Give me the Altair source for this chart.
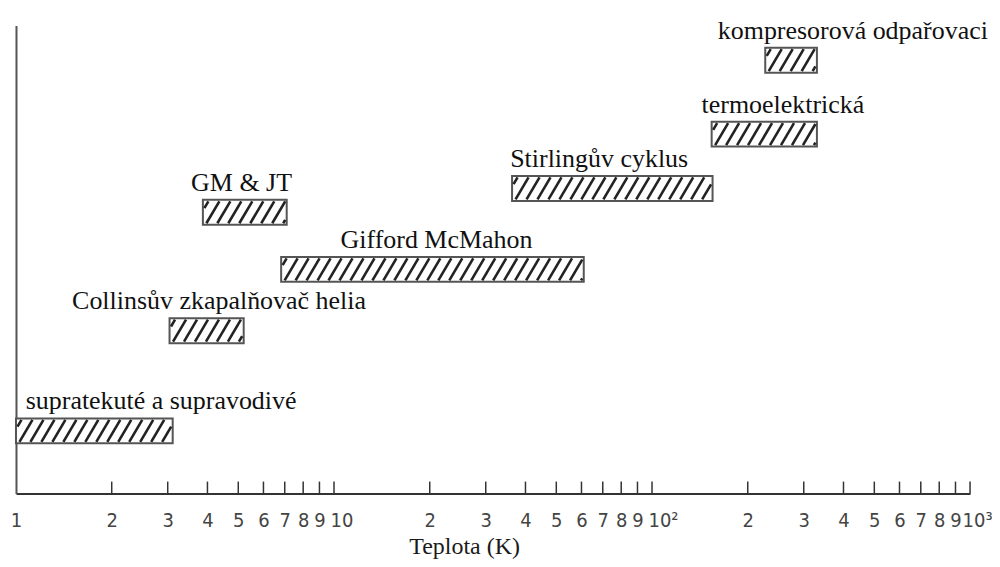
import numpy as np
import pandas as pd
import altair as alt

# ---- data ----
labels = [
    "supratekuté a supravodivé",
    "Collinsův zkapalňovač helia",
    "GM & JT",
    "Gifford McMahon",
    "Stirlingův cyklus",
    "termoelektrická",
    "kompresorová odpařovaci",
]
t_low = [1.0, 3.04, 3.87, 6.82, 36.3, 154.0, 227.0]
t_high = [3.11, 5.20, 7.10, 61.0, 155.0, 330.0, 330.0]
level = [13.4, 34.8, 60.1, 47.9, 65.2, 76.8, 92.6]
label_at = [2.86, 4.35, 5.12, 21.0, 68.2, 258.0, 428.0]
tick_values = [1, 2, 3, 4, 5, 6, 7, 8, 9, 10,
               20, 30, 40, 50, 60, 70, 80, 90, 100,
               200, 300, 400, 500, 600, 700, 800, 900, 1000]

# ---- layout / style constants ----
W, H = 956, 469
X_MIN, X_MAX = 1, 1000
Y_MAX = 100.0
PPD = W / np.log10(X_MAX / X_MIN)   # pixels per decade
PPU = H / Y_MAX                      # pixels per y unit
BAR_PX = 25
HATCH_STEP = 11.0
HATCH_RUN = 13.0

bars = pd.DataFrame({
    "label": labels, "lo": t_low, "hi": t_high, "level": level, "label_at": label_at,
})
bars["y0"] = bars["level"] - (BAR_PX / 2) / PPU
bars["y1"] = bars["level"] + (BAR_PX / 2) / PPU

# hatch strokes, derived from each bar's extent
rows = []
for _, b in bars.iterrows():
    u0 = np.log10(b.lo) * PPD + 1.5
    u1 = np.log10(b.hi) * PPD - 1.5
    vb = b.level * PPU - BAR_PX / 2 + 1.5
    vt = b.level * PPU + BAR_PX / 2 - 1.5
    h = vt - vb
    c = u0 - HATCH_RUN + 4.0
    while c < u1:
        t0 = max(0.0, (u0 - c) / HATCH_RUN)
        t1 = min(1.0, (u1 - c) / HATCH_RUN)
        if t1 > t0:
            xa = c + HATCH_RUN * t0
            xb = c + HATCH_RUN * t1
            ya = vb + h * t0
            yb = vb + h * t1
            rows.append({
                "xa": 10 ** (xa / PPD), "xb": 10 ** (xb / PPD),
                "ya": ya / PPU, "yb": yb / PPU,
            })
        c += HATCH_STEP
hatch = pd.DataFrame(rows)
ticks = pd.DataFrame({"v": tick_values[1:]})

xscale = alt.Scale(type="log", domain=[X_MIN, X_MAX], nice=False)
yscale = alt.Scale(domain=[0, Y_MAX], nice=False, zero=False)

label_expr = (
    "datum.value >= 1000 ? '10³' : datum.value == 100 ? '10²' : "
    "datum.value > 100 ? format(round(datum.value/100), 'd') : "
    "datum.value == 10 ? '10' : datum.value > 10 ? format(round(datum.value/10), 'd') : "
    "format(round(datum.value), 'd')"
)
is_decade = "datum.value == 10 || datum.value == 100 || datum.value == 1000"

x_axis = alt.Axis(
    values=tick_values, labelExpr=label_expr, ticks=False, grid=False,
    labelOverlap=False, labelFlush=False, labelPadding=17,
    labelAlign={"condition": {"test": is_decade, "value": "left"}, "value": "center"},
    labelOffset={
        "condition": [
            {"test": "datum.value == 10 || datum.value == 100", "value": -4},
            {"test": "datum.value == 1000", "value": -8},
        ],
        "value": 0,
    },
    labelFont="Liberation Sans Narrow, DejaVu Sans Condensed, Liberation Sans, sans-serif",
    labelFontSize=20, labelColor="#444", labelBaseline="top",
    domainColor="#333", domainWidth=2,
    title="Teplota (K)", titleFont="Liberation Serif", titleFontSize=24,
    titleFontWeight="normal", titleColor="#1a1a1a",
    titleX=449, titleY=60, titleBaseline="alphabetic", titleAlign="center",
)
y_axis = alt.Axis(title=None, labels=False, ticks=False, grid=False,
                  domainColor="#555", domainWidth=2)

rect = alt.Chart(bars).mark_rect(fill="white", stroke="#555", strokeWidth=2).encode(
    x=alt.X("lo:Q", scale=xscale, axis=x_axis),
    x2="hi:Q",
    y=alt.Y("y0:Q", scale=yscale, axis=y_axis),
    y2="y1:Q",
)

hatch_layer = alt.Chart(hatch).mark_rule(color="#222", strokeWidth=2.6).encode(
    x=alt.X("xa:Q", scale=xscale, axis=x_axis),
    x2="xb:Q",
    y=alt.Y("ya:Q", scale=yscale, axis=y_axis),
    y2="yb:Q",
)

text = alt.Chart(bars).mark_text(
    font="Liberation Serif", fontSize=26, baseline="alphabetic", align="center",
    dy=-(BAR_PX / 2 + 9), color="#111",
).encode(
    x=alt.X("label_at:Q", scale=xscale, axis=x_axis),
    y=alt.Y("level:Q", scale=yscale, axis=y_axis),
    text="label:N",
)

tick_layer = alt.Chart(ticks).mark_rule(color="#333", strokeWidth=1.5).encode(
    x=alt.X("v:Q", scale=xscale, axis=x_axis),
    y=alt.value(H - 12),
    y2=alt.value(H),
)

chart = alt.layer(rect, hatch_layer, tick_layer, text).properties(
    width=W, height=H,
    padding={"left": 8, "top": 17, "right": 22, "bottom": 65},
    autosize=alt.AutoSizeParams(type="none"),
).configure(background="white").configure_view(stroke=None)

chart.save("out.html", embed_options={"renderer": "svg", "actions": False})
